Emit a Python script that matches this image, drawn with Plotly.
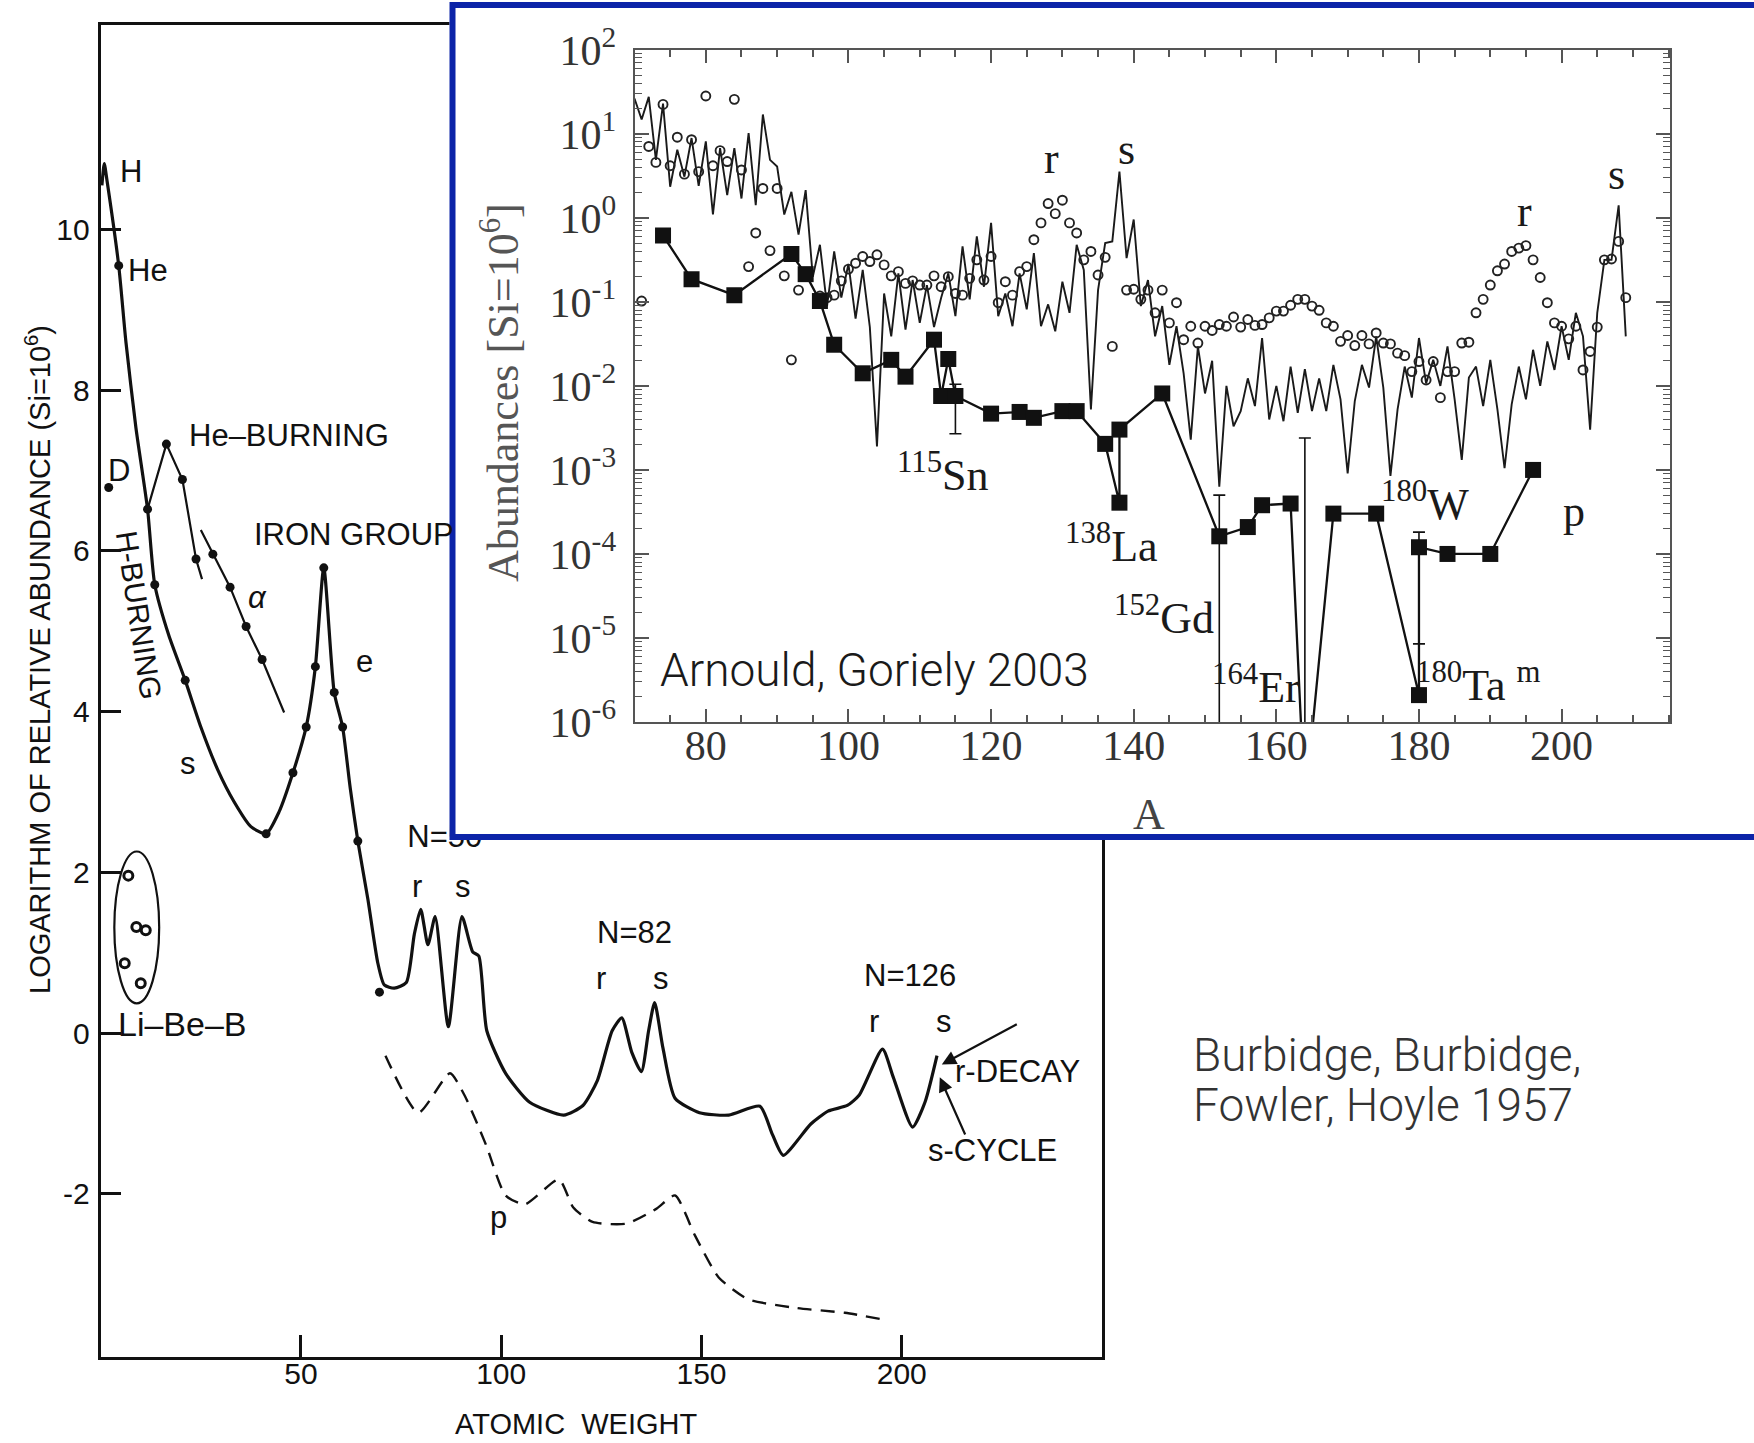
import plotly.graph_objects as go

W, H = 1754, 1443


def px(x):
    return x / W


def py(y):
    return 1 - y / H


# ---------------- B2FH 1957 main panel data ----------------
main_curve_A = [0.3, 0.9, 1.6, 4.5, 6.3, 8.8, 11.7, 13.5, 17.0, 21.1, 25.0, 29.2, 33.3, 37.5, 41.3,
                44.5, 48.0, 51.3, 53.6, 55.7, 58.3, 60.4, 62.3, 64.2, 66.7, 69.2, 70.8, 73.3, 76.3,
                78.3, 79.9, 81.7, 83.5, 86.8, 90.2, 92.9, 94.4, 96.4, 101.1, 107.1, 115.6, 120.4,
                124.0, 127.7, 130.1, 132.6, 135.0, 136.8, 138.3, 140.4, 143.4, 149.5, 156.8, 164.6,
                167.7, 170.4, 177.3, 181.6, 186.4, 189.4, 195.2, 197.9, 202.7, 205.8, 208.8]
main_curve_logN = [10.55, 10.82, 10.6, 9.55, 8.6, 7.53, 6.52, 5.58, 4.95, 4.39, 3.81, 3.28, 2.88, 2.57,
                   2.48, 2.75, 3.24, 3.81, 4.56, 5.79, 4.24, 3.81, 3.05, 2.39, 1.67, 0.87, 0.60, 0.56,
                   0.63, 1.23, 1.54, 1.10, 1.45, 0.08, 1.45, 1.01, 0.96, 0.03, -0.50, -0.86, -1.02,
                   -0.90, -0.59, 0.03, 0.19, -0.24, -0.48, 0.03, 0.38, -0.19, -0.81, -0.99, -1.02,
                   -0.91, -1.26, -1.52, -1.13, -0.97, -0.90, -0.77, -0.20, -0.55, -1.17, -0.86, -0.28]

he_burning_A = [11.7, 16.4, 20.4, 23.8, 25.3]
he_burning_logN = [6.52, 7.33, 6.89, 5.90, 5.65]

alpha_A = [25.0, 28.0, 32.3, 36.3, 40.3, 45.8]
alpha_logN = [6.26, 5.96, 5.55, 5.06, 4.65, 3.99]

p_curve_A = [71.1, 79.3, 87.2, 90.8, 96.2, 101.1, 105.9, 114.4, 118.0, 122.8, 131.3, 138.6, 143.4,
             148.3, 154.3, 161.6, 173.7, 185.8, 196.1]
p_curve_logN = [-0.28, -0.99, -0.50, -0.77, -1.39, -2.02, -2.13, -1.82, -2.17, -2.35, -2.37, -2.19,
                -2.02, -2.51, -3.04, -3.31, -3.42, -3.48, -3.57]

dots_A = [2.0, 4.5, 11.7, 16.4, 20.4, 23.8, 13.5, 21.1, 28.0, 32.3, 36.3, 40.3, 41.3, 48.0, 51.3,
          53.6, 55.7, 58.3, 60.4, 64.2, 69.6]
dots_logN = [6.79, 9.55, 6.52, 7.33, 6.89, 5.90, 5.58, 4.39, 5.96, 5.55, 5.06, 4.65, 2.48, 3.24,
             3.81, 4.56, 5.79, 4.24, 3.81, 2.39, 0.51]

libeb_A = [6.9, 8.9, 11.25, 6.0, 10.0]
libeb_logN = [1.96, 1.32, 1.28, 0.87, 0.62]

main_xticks = [50, 100, 150, 200]
main_xticklabels = ["50", "100", "150", "200"]
main_yticks = [-2, 0, 2, 4, 6, 8, 10]
main_yticklabels = ["-2", "0", "2", "4", "6", "8", "10"]

main_label_text = ["H", "He", "D", "He–BURNING", "IRON GROUP", "<i>α</i>", "e", "s", "Li–Be–B",
                   "r", "s", "N=82", "r", "s", "N=126", "r", "s", "r-DECAY", "s-CYCLE", "p"]
main_label_A = [7.5, 11.9, 4.6, 47.1, 63.3, 39.2, 65.8, 21.7, 20.5,
                79.0, 90.4, 133.2, 124.9, 140.0, 202.1, 193.1, 210.6, 229.0, 222.7, 99.3]
main_label_logN = [10.72, 9.49, 7.0, 7.44, 6.21, 5.42, 4.62, 3.35, 0.11,
                   1.83, 1.83, 1.25, 0.68, 0.68, 0.72, 0.15, 0.15, -0.48, -1.46, -2.30]

# ---------------- Arnould & Goriely 2003 inset data ----------------
s_line_A = list(range(70, 210))
s_line_logY = [1.42, 1.17, 1.44, 0.69, 1.36, 0.37, 0.81, 0.49, 0.95, 0.38,   # 70-79
               0.91, 0.04, 0.83, 0.27, 0.83, 0.23, 1.01, 0.15, 1.23, 0.69,   # 80-89
               0.61, 0.04, 0.31, -0.20, 0.33, -0.70, -0.32, -1.05, -0.40, -0.95,  # 90-99
               -0.55, -1.20, -0.62, -1.30, -2.72, -0.90, -1.41, -0.66, -1.33, -0.74,  # 100-109
               -1.25, -0.80, -1.30, -0.95, -0.66, -1.17, -0.34, -0.97, -0.22, -0.82,  # 110-119
               -0.06, -1.17, -0.90, -1.29, -0.66, -1.09, -0.42, -1.29, -1.03, -1.35,  # 120-129
               -0.76, -1.13, -0.32, -0.62, -2.28, -0.86, -0.30, -0.28, 0.55, -0.48,   # 130-139
               -0.02, -1.05, -0.74, -1.41, -1.05, -1.75, -1.29, -1.85, -2.64, -1.53,  # 140-149
               -2.09, -1.70, -3.20, -2.00, -2.48, -2.30, -1.91, -2.24, -1.43, -2.40,  # 150-159
               -2.00, -2.42, -1.77, -2.32, -1.80, -2.30, -1.91, -2.30, -1.75, -2.16,  # 160-169
               -3.04, -2.18, -1.75, -2.02, -1.41, -2.02, -3.07, -2.28, -1.77, -2.14,  # 170-179
               -1.43, -1.97, -1.69, -2.00, -1.53, -2.16, -2.88, -1.90, -1.77, -2.24,  # 180-189
               -1.69, -2.28, -2.98, -2.22, -1.77, -2.16, -1.57, -2.00, -1.47, -1.81,  # 190-199
               -1.29, -1.69, -1.13, -1.41, -2.52, -1.13, -0.50, -0.50, 0.15, -1.41]   # 200-209

r_circ_A = [71, 72, 73, 74, 75, 76, 77, 78, 79, 80, 81, 82, 83, 84, 85, 86, 87, 88, 89, 90, 91, 92, 93,
            96, 97, 98, 99, 100, 101, 102, 103, 104, 105, 106, 107, 108, 109, 110, 111, 112, 113, 114,
            115, 116, 117, 118, 119, 120, 121, 122, 123, 124, 125, 126, 127, 128, 129, 130, 131, 132,
            133, 134, 135, 136, 137, 139, 140, 141, 142, 143, 144, 145, 146, 147, 148, 149, 150, 151,
            152, 153, 154, 155, 156, 157, 158, 159, 160, 161, 162, 163, 164, 165, 166, 167, 168, 169,
            170, 171, 172, 173, 174, 175, 176, 177, 178, 179, 180, 181, 182, 183, 184, 185, 186, 187,
            188, 189, 190, 191, 192, 193, 194, 195, 196, 197, 198, 199, 200, 201, 202, 203, 204, 205,
            206, 207, 208, 209]
r_circ_logY = [-0.99, 0.85, 0.66, 1.35, 0.62, 0.96, 0.52, 0.93, 0.55, 1.45, 0.62, 0.80, 0.67, 1.41,
               0.57, -0.58, -0.18, 0.35, -0.39, 0.35, -0.69, -1.69, -0.86,
               -0.93, -0.95, -0.92, -0.75, -0.61, -0.54, -0.46, -0.52, -0.44, -0.56, -0.69, -0.64,
               -0.78, -0.75, -0.80, -0.80, -0.69, -0.82, -0.70,
               -0.90, -0.92, -0.72, -0.50, -0.74, -0.46, -1.01, -0.76, -0.92, -0.64, -0.58, -0.26,
               -0.06, 0.17, 0.05, 0.21, -0.06, -0.18,
               -0.50, -0.40, -0.68, -0.47, -1.53, -0.86, -0.85, -0.97, -0.86, -1.13, -0.86, -1.25,
               -1.01, -1.45, -1.29, -1.49, -1.29, -1.34,
               -1.27, -1.29, -1.18, -1.30, -1.21, -1.28, -1.27, -1.19, -1.11, -1.11, -1.04, -0.97,
               -0.97, -1.05, -1.10, -1.25, -1.29, -1.47,
               -1.40, -1.52, -1.40, -1.50, -1.37, -1.49, -1.50, -1.61, -1.64, -1.83, -1.71, -1.93,
               -1.71, -2.14, -1.83, -1.83, -1.49, -1.48,
               -1.13, -0.97, -0.80, -0.63, -0.55, -0.40, -0.36, -0.33, -0.50, -0.71, -1.01, -1.25,
               -1.29, -1.44, -1.29, -1.81, -1.59, -1.30,
               -0.50, -0.49, -0.28, -0.95]

p_nuc_A = [74, 78, 84, 92, 94, 96, 98, 102, 106, 108, 112, 113, 114, 115, 120, 124, 126, 130, 132,
           136, 138, 138, 144, 152, 156, 158, 162, 164, 168, 174, 180, 180, 184, 190, 196]
p_nuc_logY = [-0.21, -0.73, -0.92, -0.43, -0.67, -0.99, -1.51, -1.85, -1.69, -1.89, -1.45, -2.12,
              -1.68, -2.12, -2.33, -2.31, -2.38, -2.30, -2.30, -2.69, -3.39, -2.52, -2.09, -3.79,
              -3.68, -3.42, -3.40, -7.00, -3.52, -3.52, -5.68, -3.92, -4.00, -4.00, -3.00]
p_err_hi_logY = [None, None, None, None, None, None, None, None, None, None, None, None, None, -1.98,
                 None, None, None, None, None, None, None, None, None, -3.30, None, None, None,
                 -2.62, None, None, None, -3.74, None, None, None]
p_err_lo_logY = [None, None, None, None, None, None, None, None, None, None, None, None, None, -2.57,
                 None, None, None, None, None, None, None, None, None, -8.00, None, None, None,
                 None, None, None, None, -5.07, None, None, None]

inset_label_text = ["r", "s", "r", "s", "<sup>115</sup>Sn", "<sup>138</sup>La", "<sup>152</sup>Gd",
                    "<sup>164</sup>Er", "<sup>180</sup>W", "<sup>180</sup>Ta <sup>m</sup>", "p"]
inset_label_A = [128.5, 139.0, 194.8, 207.7, 113.3, 136.9, 144.3, 157.2, 180.9, 188.3, 201.7]
inset_label_logY = [0.71, 0.81, 0.07, 0.51, -3.03, -3.88, -4.73, -5.55, -3.37, -5.53, -3.50]

inset_yexp = [-6, -5, -4, -3, -2, -1, 0, 1, 2]

# ---------------- build figure ----------------
INK = "#111111"
SANS = "Liberation Sans, Arial, sans-serif"
SERIF = "Liberation Serif, Times New Roman, serif"
LIGHT = "Roboto, Open Sans, sans-serif"
BLUE = "#0c24a8"

fig = go.Figure()

# main panel traces
fig.add_trace(go.Scatter(x=main_curve_A, y=main_curve_logN, mode="lines",
                         line=dict(color=INK, width=3.2, shape="spline", smoothing=0.6),
                         xaxis="x", yaxis="y", hoverinfo="skip", showlegend=False))
fig.add_trace(go.Scatter(x=he_burning_A, y=he_burning_logN, mode="lines",
                         line=dict(color=INK, width=2.2), xaxis="x", yaxis="y",
                         hoverinfo="skip", showlegend=False))
fig.add_trace(go.Scatter(x=alpha_A, y=alpha_logN, mode="lines",
                         line=dict(color=INK, width=2.2), xaxis="x", yaxis="y",
                         hoverinfo="skip", showlegend=False))
fig.add_trace(go.Scatter(x=p_curve_A, y=p_curve_logN, mode="lines",
                         line=dict(color=INK, width=2.4, dash="14px,9px", shape="spline", smoothing=0.6),
                         xaxis="x", yaxis="y", hoverinfo="skip", showlegend=False))
fig.add_trace(go.Scatter(x=dots_A, y=dots_logN, mode="markers",
                         marker=dict(color=INK, size=9), xaxis="x", yaxis="y",
                         hoverinfo="skip", showlegend=False))
fig.add_trace(go.Scatter(x=libeb_A, y=libeb_logN, mode="markers",
                         marker=dict(color="white", size=9, line=dict(color=INK, width=3)),
                         xaxis="x", yaxis="y", hoverinfo="skip", showlegend=False))
# N=50 label as a text trace so that the inset frame covers its top
fig.add_trace(go.Scatter(x=[85.9], y=[2.41], mode="text", text=["N=50"],
                         textfont=dict(family=SANS, size=31, color=INK),
                         xaxis="x", yaxis="y", hoverinfo="skip", showlegend=False, cliponaxis=False))

# cover subplot (white background behind the inset frame)
fig.add_trace(go.Scatter(x=[0.5], y=[0.5], mode="markers", marker=dict(opacity=0),
                         xaxis="x2", yaxis="y2", hoverinfo="skip", showlegend=False))

# inset traces
s_line_Y = [10 ** v for v in s_line_logY]
r_circ_Y = [10 ** v for v in r_circ_logY]
p_nuc_Y = [10 ** v for v in p_nuc_logY]
err_plus = [(10 ** h - 10 ** v) if h is not None else 0 for h, v in zip(p_err_hi_logY, p_nuc_logY)]
err_minus = [(10 ** v - 10 ** l) if l is not None else 0 for l, v in zip(p_err_lo_logY, p_nuc_logY)]

fig.add_trace(go.Scatter(x=s_line_A, y=s_line_Y, mode="lines",
                         line=dict(color="#1a1a1a", width=1.9),
                         xaxis="x3", yaxis="y3", hoverinfo="skip", showlegend=False))
fig.add_trace(go.Scatter(x=r_circ_A, y=r_circ_Y, mode="markers",
                         marker=dict(symbol="circle-open", size=9, color="#222222", line=dict(width=1.9)),
                         xaxis="x3", yaxis="y3", hoverinfo="skip", showlegend=False))
fig.add_trace(go.Scatter(x=p_nuc_A, y=p_nuc_Y, mode="lines+markers",
                         line=dict(color="#111111", width=2.3),
                         marker=dict(symbol="square", size=16, color="#111111"),
                         error_y=dict(type="data", symmetric=False, array=err_plus, arrayminus=err_minus,
                                      color="#111111", thickness=1.6, width=6),
                         xaxis="x3", yaxis="y3", hoverinfo="skip", showlegend=False, cliponaxis=True))

annotations = []
for t, a, v in zip(main_label_text, main_label_A, main_label_logN):
    size = 34 if t.startswith("Li") else 31
    annotations.append(dict(x=a, y=v, xref="x", yref="y", text=t, showarrow=False,
                            xanchor="center", yanchor="middle",
                            font=dict(family=SANS, size=size, color=INK)))
# rotated H-BURNING
annotations.append(dict(x=9.6, y=5.2, xref="x", yref="y", text="H-BURNING", showarrow=False,
                        xanchor="center", yanchor="middle",
                        textangle=81.4, font=dict(family=SANS, size=30, color=INK)))
# arrows for r-DECAY and s-CYCLE
annotations.append(dict(x=210.0, y=-0.39, ax=229.1, ay=0.12, xref="x", yref="y", axref="x", ayref="y",
                        text="", showarrow=True, arrowhead=2, arrowsize=1.3, arrowwidth=2.2, arrowcolor=INK))
annotations.append(dict(x=209.5, y=-0.55, ax=216.0, ay=-1.28, xref="x", yref="y", axref="x", ayref="y",
                        text="", showarrow=True, arrowhead=2, arrowsize=1.3, arrowwidth=2.2, arrowcolor=INK))
# main axis titles
annotations.append(dict(x=px(38), y=py(660), xref="paper", yref="paper", showarrow=False, textangle=-90,
                        xanchor="center", yanchor="middle",
                        text="LOGARITHM OF RELATIVE ABUNDANCE (Si=10<sup>6</sup>)",
                        font=dict(family=SANS, size=29, color=INK)))
annotations.append(dict(x=px(576), y=py(1424), xref="paper", yref="paper", showarrow=False,
                        xanchor="center", yanchor="middle",
                        text="ATOMIC  WEIGHT", font=dict(family=SANS, size=29, color=INK)))
# inset labels
for t, a, v in zip(inset_label_text, inset_label_A, inset_label_logY):
    annotations.append(dict(x=a, y=v, xref="x3", yref="y3", text=t, showarrow=False,
                            xanchor="center", yanchor="middle",
                            font=dict(family=SERIF, size=44, color="#1a1a1a")))
annotations.append(dict(x=px(501), y=py(392), xref="paper", yref="paper", showarrow=False, textangle=-90,
                        xanchor="center", yanchor="middle",
                        text="Abundances [Si=10<sup>6</sup>]",
                        font=dict(family=SERIF, size=44, color="#555555")))
annotations.append(dict(x=px(1149), y=py(814), xref="paper", yref="paper", showarrow=False,
                        xanchor="center", yanchor="middle",
                        text="A", font=dict(family=SERIF, size=44, color="#444444")))
annotations.append(dict(x=px(658), y=py(670), xref="paper", yref="paper", showarrow=False,
                        xanchor="left", yanchor="middle", text="Arnould, Goriely 2003",
                        font=dict(family=LIGHT, size=46, color="#1a1a1a", weight=300)))
annotations.append(dict(x=px(1191), y=py(1055), xref="paper", yref="paper", showarrow=False,
                        xanchor="left", yanchor="middle", text="Burbidge, Burbidge,",
                        font=dict(family=LIGHT, size=46, color="#333333", weight=300)))
annotations.append(dict(x=px(1191), y=py(1105), xref="paper", yref="paper", showarrow=False,
                        xanchor="left", yanchor="middle", text="Fowler, Hoyle 1957",
                        font=dict(family=LIGHT, size=46, color="#333333", weight=300)))

shapes = [
    dict(type="circle", xref="x", yref="y", x0=3.4, x1=14.6, y0=0.37, y1=2.26,
         line=dict(color=INK, width=2.2), layer="above"),
    dict(type="rect", xref="paper", yref="paper", x0=px(452.5), x1=1.02, y0=py(837), y1=py(5.0),
         line=dict(color=BLUE, width=6), fillcolor="rgba(0,0,0,0)", layer="above"),
]

minor_y = [m * 10 ** k for k in range(-6, 2) for m in range(2, 10)]

fig.update_layout(
    width=W, height=H, autosize=False,
    margin=dict(l=0, r=0, t=0, b=0, pad=0, autoexpand=False),
    paper_bgcolor="white", plot_bgcolor="white",
    showlegend=False,
    annotations=annotations,
    shapes=shapes,
    xaxis=dict(domain=[px(100.7), px(1102)], range=[0, 250], anchor="y",
               showline=True, mirror=True, linecolor=INK, linewidth=3,
               ticks="inside", ticklen=22, tickwidth=2.5, tickcolor=INK,
               tickmode="array", tickvals=main_xticks, ticktext=main_xticklabels,
               tickfont=dict(family=SANS, size=30, color=INK),
               showgrid=False, zeroline=False, ticklabelstandoff=-12, automargin=False),
    yaxis=dict(domain=[py(1357), py(24.6)], range=[-4.03, 12.55], anchor="x",
               showline=True, mirror=True, linecolor=INK, linewidth=3,
               ticks="inside", ticklen=20, tickwidth=2.5, tickcolor=INK,
               tickmode="array", tickvals=main_yticks, ticktext=main_yticklabels,
               tickfont=dict(family=SANS, size=30, color=INK),
               showgrid=False, zeroline=False, ticklabelstandoff=2, automargin=False),
    xaxis2=dict(domain=[px(449.5), 1], range=[0, 1], anchor="y2", visible=False, fixedrange=True),
    yaxis2=dict(domain=[py(840), 1], range=[0, 1], anchor="x2", visible=False, fixedrange=True),
    xaxis3=dict(domain=[px(634.5), px(1670)], range=[70, 215.2], anchor="y3",
                showline=True, mirror="allticks", linecolor="#555555", linewidth=2,
                ticks="inside", ticklen=13, tickwidth=2, tickcolor="#555555",
                tickmode="linear", tick0=0, dtick=20,
                minor=dict(ticks="inside", ticklen=7, tickwidth=1.5, tickcolor="#555555", dtick=5, tick0=0),
                tickfont=dict(family=SERIF, size=42, color="#333333"),
                showgrid=False, zeroline=False, ticklabelstandoff=-14, automargin=False),
    yaxis3=dict(domain=[py(722), py(49.8)], type="log", range=[-6, 2], anchor="x3",
                showline=True, mirror="allticks", linecolor="#555555", linewidth=2,
                ticks="inside", ticklen=14, tickwidth=2, tickcolor="#555555",
                tickmode="array", tickvals=[10 ** k for k in inset_yexp],
                ticktext=["10<sup>%d</sup>" % k for k in inset_yexp],
                minor=dict(ticks="inside", ticklen=7, tickwidth=1.3, tickcolor="#555555",
                           tickmode="array", tickvals=minor_y),
                tickfont=dict(family=SERIF, size=42, color="#333333"),
                showgrid=False, zeroline=False, ticklabelstandoff=8, automargin=False),
)

fig.write_html("out.html")
